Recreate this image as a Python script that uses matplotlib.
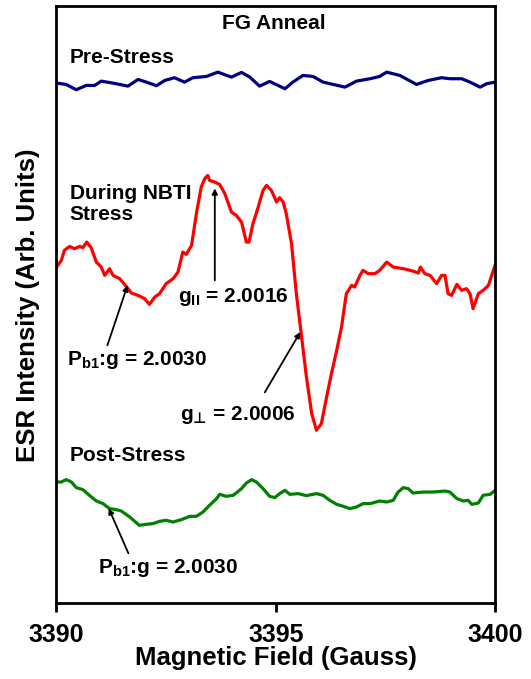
import matplotlib
matplotlib.use("Agg")
import matplotlib.pyplot as plt

plt.rcParams["font.family"] = ["Liberation Sans", "DejaVu Sans"]
plt.rcParams["font.weight"] = "bold"
plt.rcParams["mathtext.fontset"] = "custom"
plt.rcParams["mathtext.rm"] = "Liberation Sans:bold"
plt.rcParams["mathtext.bf"] = "Liberation Sans:bold"
plt.rcParams["mathtext.it"] = "Liberation Sans:bold"

# Pre-stress trace (navy)
pre_field = [3390.00, 3390.22, 3390.45, 3390.68, 3390.87, 3391.02, 3391.29, 3391.63,
             3391.86, 3392.05, 3392.28, 3392.47, 3392.69, 3392.92, 3393.11, 3393.42,
             3393.68, 3393.99, 3394.22, 3394.41, 3394.63, 3394.86, 3395.21, 3395.39,
             3395.62, 3395.85, 3396.08, 3396.31, 3396.58, 3396.84, 3397.15, 3397.37,
             3397.53, 3397.83, 3398.21, 3398.48, 3398.78, 3398.97, 3399.24, 3399.43,
             3399.66, 3399.81, 3400.00]
pre_signal = [520.3, 519.0, 513.7, 518.0, 518.0, 522.3, 520.3, 517.3,
              524.0, 521.3, 517.7, 523.0, 525.7, 521.3, 525.7, 527.0,
              531.3, 526.3, 531.0, 526.3, 517.3, 522.0, 514.7, 521.3,
              528.0, 527.0, 521.3, 519.0, 516.3, 522.3, 524.7, 527.0,
              531.3, 528.0, 519.0, 523.0, 525.7, 524.7, 524.7, 521.3,
              516.3, 519.7, 521.3]

# During NBTI stress trace (red)
during_field = [3390.00, 3390.11, 3390.18, 3390.30, 3390.41, 3390.53, 3390.60, 3390.69,
                3390.79, 3390.91, 3391.02, 3391.10, 3391.21, 3391.29, 3391.44, 3391.59,
                3391.71, 3391.86, 3392.01, 3392.12, 3392.24, 3392.35, 3392.50, 3392.66,
                3392.77, 3392.88, 3392.96, 3393.08, 3393.19, 3393.30, 3393.38, 3393.45,
                3393.49, 3393.61, 3393.72, 3393.84, 3393.99, 3394.10, 3394.22, 3394.33,
                3394.39, 3394.48, 3394.60, 3394.71, 3394.79, 3394.90, 3395.02, 3395.09,
                3395.17, 3395.24, 3395.36, 3395.47, 3395.59, 3395.70, 3395.82, 3395.93,
                3396.04, 3396.16, 3396.27, 3396.39, 3396.50, 3396.61, 3396.73, 3396.80,
                3396.92, 3396.99, 3397.11, 3397.26, 3397.37, 3397.53, 3397.68, 3397.91,
                3398.13, 3398.25, 3398.30, 3398.40, 3398.52, 3398.67, 3398.78, 3398.86,
                3398.93, 3399.01, 3399.13, 3399.24, 3399.35, 3399.43, 3399.50, 3399.62,
                3399.73, 3399.85, 3400.00]
during_signal = [336.3, 343.0, 353.0, 357.0, 354.7, 357.0, 355.7, 361.3,
                 355.7, 341.3, 336.3, 328.0, 334.7, 328.0, 324.7, 317.0,
                 310.3, 308.0, 304.7, 299.0, 306.3, 309.7, 319.7, 324.7,
                 331.3, 351.3, 349.0, 358.0, 389.7, 416.3, 424.7, 428.0,
                 423.0, 421.3, 419.0, 409.7, 391.3, 388.0, 381.3, 361.3,
                 361.3, 379.7, 396.3, 413.0, 418.0, 413.0, 401.3, 405.7,
                 401.3, 389.7, 359.7, 309.7, 266.3, 226.3, 189.7, 173.0,
                 179.7, 206.3, 229.7, 253.0, 276.3, 309.7, 318.0, 316.3,
                 328.0, 333.0, 329.7, 329.7, 333.0, 341.3, 336.3, 334.7,
                 332.3, 330.3, 336.3, 329.7, 328.0, 319.7, 328.0, 328.0,
                 309.7, 308.0, 319.0, 313.0, 314.7, 309.7, 294.7, 309.7,
                 313.0, 318.0, 338.0]

# Post-stress trace (green)
post_field = [3390.00, 3390.11, 3390.22, 3390.34, 3390.45, 3390.60, 3390.75, 3390.91,
              3391.06, 3391.21, 3391.36, 3391.48, 3391.67, 3391.89, 3392.05, 3392.20,
              3392.35, 3392.50, 3392.66, 3392.85, 3393.04, 3393.19, 3393.34, 3393.49,
              3393.65, 3393.72, 3393.87, 3394.03, 3394.22, 3394.33, 3394.45, 3394.56,
              3394.71, 3394.86, 3394.98, 3395.09, 3395.21, 3395.32, 3395.51, 3395.70,
              3395.93, 3396.08, 3396.23, 3396.39, 3396.54, 3396.69, 3396.84, 3396.99,
              3397.15, 3397.37, 3397.53, 3397.68, 3397.79, 3397.91, 3398.02, 3398.13,
              3398.36, 3398.59, 3398.86, 3398.97, 3399.13, 3399.28, 3399.39, 3399.47,
              3399.62, 3399.73, 3399.89, 3400.00]
post_signal = [121.3, 121.3, 123.7, 121.3, 115.7, 113.7, 108.0, 102.3,
               99.7, 94.7, 93.7, 92.3, 86.3, 78.0, 79.0, 79.7,
               82.0, 83.0, 81.3, 83.7, 87.0, 87.0, 91.3, 98.0,
               104.7, 109.0, 107.0, 108.0, 114.7, 120.3, 123.7, 121.3,
               114.7, 107.0, 105.7, 109.7, 113.0, 109.0, 109.7, 107.7,
               109.7, 108.0, 103.0, 99.0, 97.0, 94.7, 96.3, 99.7,
               99.7, 102.3, 101.3, 103.0, 111.3, 115.7, 114.7, 110.3,
               111.3, 111.3, 112.3, 111.3, 104.7, 102.3, 103.0, 99.0,
               100.3, 108.0, 109.0, 113.0]

x_ticks = [3390, 3395, 3400]

fig = plt.figure(figsize=(5.31, 6.79), dpi=100)
ax = fig.add_axes([0.1064, 0.1115, 0.8258, 0.879])

ax.plot(pre_field, pre_signal, color="#000080", lw=2.3)
ax.plot(during_field, during_signal, color="#ff0000", lw=2.3)
ax.plot(post_field, post_signal, color="#008000", lw=2.3)

ax.set_xlim(3390, 3400)
ax.set_ylim(0, 597)
ax.set_xticks(x_ticks)
ax.set_xticklabels([str(t) for t in x_ticks])
ax.set_yticks([])
ax.tick_params(axis="x", direction="out", length=6.5, width=2, labelsize=18, pad=8)
for s in ax.spines.values():
    s.set_linewidth(2)

ax.set_xlabel("Magnetic Field (Gauss)", fontsize=18.5, fontweight="bold", labelpad=-1)
ax.set_ylabel("ESR Intensity (Arb. Units)", fontsize=18.5, fontweight="bold", labelpad=12)

fs = 15
ax.text(3394.95, 580, "FG Anneal", ha="center", va="center", fontsize=fs)
ax.text(3390.30, 546, "Pre-Stress", ha="left", va="center", fontsize=fs)
ax.text(3390.30, 399.5, "During NBTI\nStress", ha="left", va="center", fontsize=fs,
        linespacing=1.1)
ax.text(3390.30, 148, "Post-Stress", ha="left", va="center", fontsize=fs)

arrow = dict(arrowstyle="-|>", color="black", lw=1.3, mutation_scale=8,
             shrinkA=0, shrinkB=0)

ax.annotate("", xy=(3393.61, 415), xytext=(3393.61, 323), arrowprops=arrow)
ax.text(3392.76, 306, r"g$_{\mathregular{II}}$ = 2.0016", ha="left", va="center", fontsize=fs)

ax.annotate("", xy=(3391.62, 318), xytext=(3391.16, 258), arrowprops=arrow)
ax.text(3390.25, 243, r"P$_{\mathregular{b1}}$:g = 2.0030", ha="left", va="center", fontsize=fs)

ax.annotate("", xy=(3395.56, 271.3), xytext=(3394.75, 211), arrowprops=arrow)
# the ⊥ sign (U+22A5) is in DejaVu but not in Liberation Sans
ax.text(3392.81, 188, "g$_{\\mathrm{\u22a5}}$ = 2.0006", ha="left", va="center", fontsize=fs,
        math_fontfamily="dejavusans")

ax.annotate("", xy=(3391.19, 95), xytext=(3391.64, 50), arrowprops=arrow)
ax.text(3390.94, 35, r"P$_{\mathregular{b1}}$:g = 2.0030", ha="left", va="center", fontsize=fs)

fig.savefig("out.png", dpi=100)
